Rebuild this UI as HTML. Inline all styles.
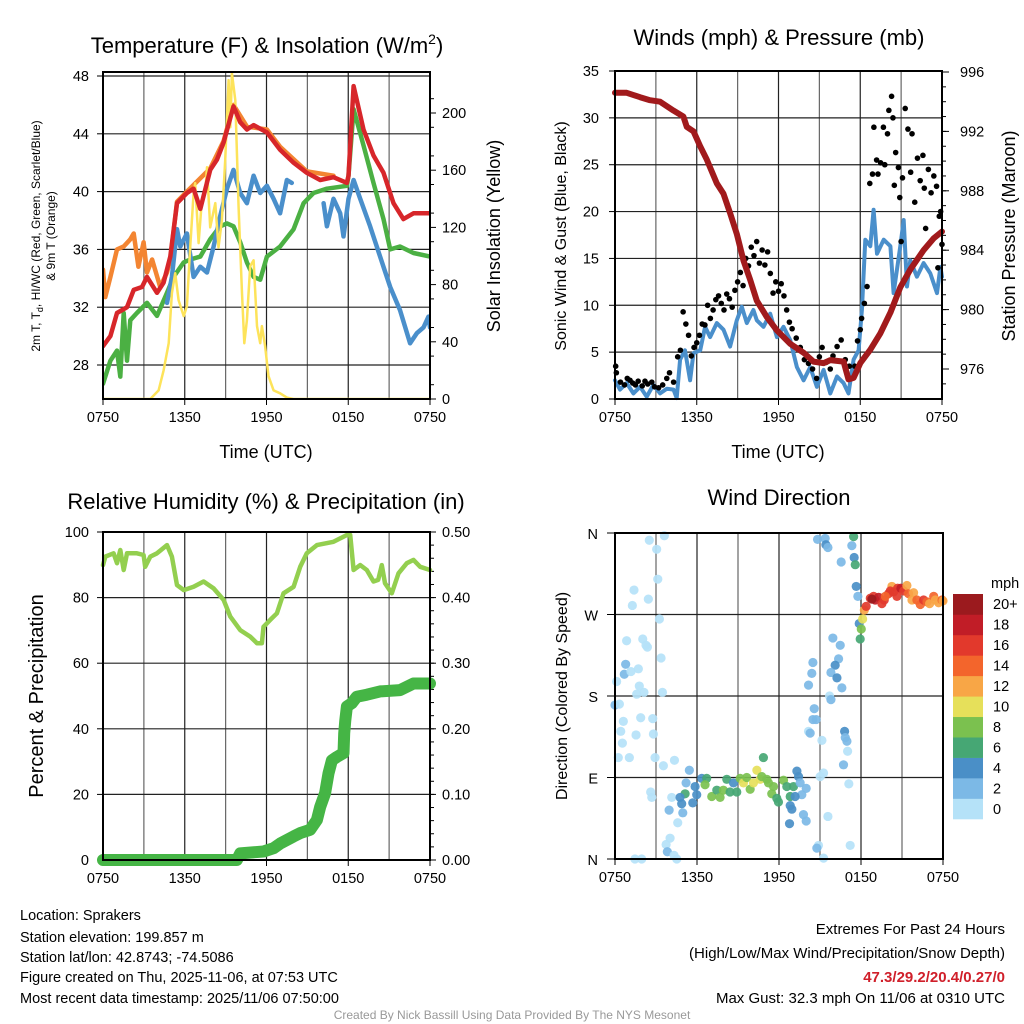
<!DOCTYPE html>
<html><head><meta charset="utf-8"><style>
html,body{margin:0;padding:0;background:#fff;}
svg{display:block;font-family:"Liberation Sans",sans-serif;}
</style></head><body>
<svg id="root" width="1024" height="1024" xmlns="http://www.w3.org/2000/svg">
<rect width="1024" height="1024" fill="#fff"/>
<g id="p1"></g>
<g id="p2"></g>
<g id="p3"></g>
<g id="p4"></g>
<text x="267" y="53" font-size="22" text-anchor="middle">Temperature (F) &amp; Insolation (W/m<tspan font-size="14" dy="-9">2</tspan><tspan dy="9">)</tspan></text>
<text x="779" y="45" font-size="22" text-anchor="middle">Winds (mph) &amp; Pressure (mb)</text>
<text x="266" y="509" font-size="22" text-anchor="middle">Relative Humidity (%) &amp; Precipitation (in)</text>
<text x="779" y="505" font-size="22" text-anchor="middle">Wind Direction</text>
<text x="266" y="458" font-size="18" text-anchor="middle">Time (UTC)</text>
<text x="778" y="458" font-size="18" text-anchor="middle">Time (UTC)</text>
<text transform="translate(40,236) rotate(-90)" font-size="12" text-anchor="middle">2m T, T<tspan font-size="9" dy="3">d</tspan><tspan dy="-3">, HI/WC (Red, Green, Scarlet/Blue)</tspan></text>
<text transform="translate(55,236) rotate(-90)" font-size="12" text-anchor="middle">&amp; 9m T (Orange)</text>
<text transform="translate(500,236) rotate(-90)" font-size="18" text-anchor="middle">Solar Insolation (Yellow)</text>
<text transform="translate(566,236) rotate(-90)" font-size="16" text-anchor="middle">Sonic Wind &amp; Gust (Blue, Black)</text>
<text transform="translate(1015,236) rotate(-90)" font-size="18" text-anchor="middle">Station Pressure (Maroon)</text>
<text transform="translate(43,696) rotate(-90)" font-size="20" text-anchor="middle">Percent &amp; Precipitation</text>
<text transform="translate(567,696) rotate(-90)" font-size="16" text-anchor="middle">Direction (Colored By Speed)</text>
<g font-size="14.5">
<text x="20" y="920">Location: Sprakers</text>
<text x="20" y="942">Station elevation: 199.857 m</text>
<text x="20" y="962">Station lat/lon: 42.8743; -74.5086</text>
<text x="20" y="982">Figure created on Thu, 2025-11-06, at 07:53 UTC</text>
<text x="20" y="1003">Most recent data timestamp: 2025/11/06 07:50:00</text>
</g>
<g font-size="15" text-anchor="end">
<text x="1005" y="934">Extremes For Past 24 Hours</text>
<text x="1005" y="958">(High/Low/Max Wind/Precipitation/Snow Depth)</text>
<text x="1005" y="982" fill="#d01f2a" font-weight="bold">47.3/29.2/20.4/0.27/0</text>
<text x="1005" y="1003">Max Gust: 32.3 mph On 11/06 at 0310 UTC</text>
</g>
<text x="512" y="1019" font-size="12" fill="#999" text-anchor="middle">Created By Nick Bassill Using Data Provided By The NYS Mesonet</text>
</svg>
<script>
// ---------- data ----------
const xTickHours=[0,6,12,18,24];
const xTickLabels=["0750","1350","1950","0150","0750"];
// Panel 1: temperature (F)
const redT=[0,.54,1.03,1.76,2.25,2.86,3.23,3.96,4.45,4.94,5.43,6.16,6.65,7.14,7.87,8.36,8.85,9.58,10.07,10.56,11.05,12.03,13.0,13.99,14.96,15.94,16.92,17.9,18.02,18.39,19.12,19.85,20.59,21.32,22.05,22.79,23.28,24];
const redV=[29.3,30.0,31.6,32.0,33.2,33.4,34.1,33.0,33.7,35.5,39.2,39.9,40.2,38.8,41.5,42.2,43.4,45.9,44.8,44.3,44.6,44.1,42.9,42.0,41.3,40.8,41.0,40.6,41.1,47.3,44.3,42.5,41.3,39.2,38.1,38.5,38.5,38.5];
const orangeT=[0,.17,.54,1.03,1.52,2.0,2.25,2.6,2.98,3.23,3.6,4.2,4.7,4.94,5.43,6.16,7.87,8.85,9.58,10.56,12.03,13.0,14.96,16.92];
const orangeV=[34.6,32.7,34.1,36.0,36.2,36.7,37.1,34.8,36.5,34.4,35.3,33.4,34.4,35.3,39.3,40.0,41.6,43.5,46.0,44.5,44.3,43.1,41.4,41.1];
const greenT=[0,.54,1.03,1.27,1.52,1.76,2.0,2.49,3.23,3.96,4.7,5.18,5.92,6.4,7.14,7.87,8.6,9.1,9.58,10.07,10.56,11.05,11.54,12.03,13.0,13.99,14.72,15.45,16.43,17.9,18.02,18.39,19.12,19.85,20.59,21.08,21.8,22.79,24];
const greenV=[26.7,28.3,29.0,27.2,31.6,28.3,31.1,31.6,32.3,31.4,33.0,34.1,35.1,35.3,35.5,36.7,37.6,37.8,37.6,36.5,35.1,34.1,33.9,35.5,36.2,37.4,39.2,39.9,40.2,40.4,41.1,45.7,43.2,40.6,38.1,36.0,36.2,35.75,35.5];
const blueT=[4.7,5.06,5.43,5.67,6.16,6.65,7.14,7.63,8.12,8.6,9.1,9.58,10.07,10.56,11.05,11.54,12.03,12.52,13.0,13.5,13.86,null,16.19,16.43,16.92,17.41,17.65,18.02,18.39,18.88,19.6,20.34,21.08,21.8,22.54,23.03,23.52,23.89,24];
const blueV=[32.3,34.1,37.4,36.2,37.1,34.1,34.8,34.4,36.2,38.3,40.2,41.5,39.9,39.2,41.1,39.9,40.4,39.5,38.5,40.8,40.6,null,39.2,37.6,39.5,38.5,36.9,39.5,40.8,39.5,37.6,35.5,33.4,31.8,29.5,30.2,30.6,31.35,30.6];
const solarT=[0,3.47,4.08,4.45,4.82,5.06,5.3,5.55,5.92,6.16,6.4,6.65,6.77,7.02,7.26,7.5,7.63,7.87,8.24,8.48,8.73,8.97,9.22,9.34,9.46,9.71,9.95,10.2,10.37,10.56,10.8,11.05,11.3,11.54,11.66,11.9,12.15,12.52,13.0,13.5,13.99,24];
const solarV=[0,0,6,20,39,74,88,69,58,65,106,144,151,109,139,144,162,120,137,106,125,167,223,190,228,209,134,74,39,55,93,97,51,39,51,37,16,6,4,1,0,0];
// Panel 2: wind (mph) and pressure (mb)
const windT=[0,.37,.86,1.35,1.84,2.33,2.82,3.31,3.8,4.29,4.53,4.78,5.14,5.51,5.76,6.25,6.61,6.98,7.47,7.96,8.45,8.94,9.31,9.67,10.16,10.41,10.9,11.39,11.88,12.37,12.86,13.35,13.84,14.33,14.82,15.31,15.8,16.29,16.78,17.14,17.51,17.88,18.12,18.37,18.74,18.98,19.23,19.72,20.21,20.45,20.94,21.19,21.43,21.67,22.16,22.65,23.14,23.63,23.88,24];
const windV=[2.0,1.0,1.7,0.6,1.3,0.25,1.5,0.6,1.1,1.0,0.1,4.2,5.2,2.0,4.9,5.2,7.7,6.6,8.1,7.4,5.6,8.4,9.85,8.1,9.5,8.4,7.7,9.1,6.6,7.7,6.3,3.4,2.0,3.4,1.3,3.1,0.6,2.4,1.7,0.6,4.2,5.2,9.5,17.0,16.3,20.2,15.5,17.0,16.3,11.3,16.3,19.1,12.0,14.8,13.05,14.5,13.4,11.3,14.1,13.05];
const gustT=[0.05,0.1,0.4,0.7,0.9,1.1,1.3,1.5,1.7,2.0,2.2,2.4,2.7,2.9,3.2,3.5,3.8,4.0,4.3,4.6,4.8,5.0,5.2,5.4,5.6,5.8,6.0,6.2,6.4,6.6,6.8,7.0,7.2,7.4,7.6,7.8,8.0,8.2,8.4,8.6,8.8,9.0,9.2,9.4,9.6,9.8,10.0,10.2,10.4,10.6,10.8,11.0,11.2,11.4,11.6,11.8,12.0,12.2,12.4,12.6,12.8,13.0,13.3,13.6,13.9,14.2,14.5,14.8,15.0,15.2,15.5,15.8,16.0,16.3,16.6,16.9,17.2,17.6,17.8,18.0,18.1,18.3,18.5,18.7,18.9,19.0,19.2,19.3,19.5,19.7,19.8,20.0,20.1,20.3,20.4,20.6,20.8,20.9,21.1,21.3,21.5,21.7,21.8,22.0,22.2,22.4,22.6,22.8,23.0,23.2,23.4,23.6,23.8,23.9,24.0,23.7,22.7,21.0,20.5];
const gustV=[3.5,2.8,1.8,1.5,2.2,2.0,1.7,1.5,1.9,1.4,1.9,1.6,1.8,1.3,1.2,1.5,2.2,2.8,1.8,4.5,5.2,9.3,8.0,6.8,4.6,5.5,6.0,6.8,8.0,7.9,10.0,8.6,9.5,10.6,11.0,10.2,9.5,11.2,10.7,9.8,11.6,12.5,13.5,12.1,15.0,14.2,16.2,15.3,16.8,14.5,15.9,14.3,15.7,13.4,11.3,12.5,11.5,12.3,11.0,9.5,8.2,7.5,6.5,5.5,4.2,3.8,3.2,2.2,4.5,5.5,3.9,3.2,4.6,5.6,6.3,4.2,3.5,3.5,6.2,7.4,8.6,10.2,12.0,23.0,24.0,29.0,25.5,24.0,25.2,29.0,25.0,28.3,30.8,32.3,30.0,26.3,24.7,21.5,23.6,31.0,28.8,24.2,28.3,21.0,25.7,23.3,26.0,18.2,24.5,22.0,23.8,22.7,19.5,20.0,16.5,14.0,22.5,16.8,22.8];
const presT=[0,.86,1.84,2.57,3.31,4.29,5.02,5.27,5.76,6.25,6.74,7.47,7.96,8.45,8.94,9.43,9.92,10.41,11.14,11.88,12.86,13.84,14.57,15.31,15.8,16.78,17.14,17.51,18.0,18.74,19.47,20.21,20.94,21.67,22.65,23.39,24];
const presV=[994.6,994.6,994.3,994.1,994.0,993.4,993.0,992.3,992.0,991.0,990.1,988.5,987.8,986.5,985.1,983.3,982.0,980.6,979.5,978.6,977.7,977.1,976.5,976.4,976.6,976.5,975.3,975.4,976.4,977.3,978.4,979.8,981.5,982.7,984.0,984.8,985.25];
// Panel 3: RH (%) and precipitation (in)
const rhT=[0,.17,.78,1.03,1.27,1.52,1.76,2.49,2.98,3.1,3.47,3.96,4.7,5.06,5.43,5.92,6.65,7.38,8.12,8.85,9.34,10.07,10.8,11.3,11.66,11.78,12.27,12.76,13.25,13.99,14.47,14.96,15.7,16.92,17.9,18.14,18.39,18.88,19.36,19.85,20.2,20.46,20.7,21.2,21.69,22.3,22.79,23.28,24];
const rhV=[89.9,92.5,93.5,90.5,94.5,88.4,93.5,93.5,93.0,89.4,92.5,93.5,96.0,92.5,83.8,82.3,83.3,84.9,82.8,79.3,74.2,70.1,68.1,66.1,66.1,71.1,73.2,75.2,81.3,83.3,89.4,93.5,96.0,97.0,99.1,99.1,88.4,89.9,88.4,84.9,85.4,89.9,84.4,81.3,87.4,90.5,91.5,89.4,88.4];
const prT=[0,9.83,10.07,11.78,12.52,13.0,13.99,14.47,15.2,15.7,15.94,16.3,16.55,16.8,17.16,17.65,17.7,17.78,17.9,18.26,18.63,19.36,20.34,21.8,22.79,24];
const prV=[0,0,.010,.013,.018,.025,.036,.041,.046,.061,.081,.102,.132,.152,.157,.163,.193,.213,.234,.239,.249,.252,.257,.259,.269,.269];
// Panel 4: wind direction (deg) colored by speed (mph)
const dirT=[2.51,3.61,3.05,3.13,1.39,1.27,2.44,3.25,0.85,2.03,2.27,2.37,0.78,0.68,1.17,1.71,0.12,1.78,1.59,2.12,3.47,3.37,0.0,0.32,0.61,0.42,0.54,0.24,1.05,1.88,2.76,1.54,2.81,2.93,3.54,4.35,2.61,2.69,4.15,3.96,4.59,3.74,4.03,3.83,4.32,4.52,1.46,1.95,
5.44,5.2,5.13,4.76,4.88,4.96,5.69,5.86,5.98,6.35,6.71,6.59,7.08,7.45,7.69,7.93,8.18,8.42,8.67,8.91,9.16,9.4,9.64,9.89,10.13,10.38,10.62,10.74,10.86,11.11,11.23,11.47,11.6,11.84,11.96,12.33,12.57,12.82,13.06,13.31,13.43,13.55,13.67,13.18,12.82,12.94,12.77,13.79,13.99,13.99,
14.16,14.28,14.16,14.4,14.48,14.58,14.48,14.72,15.14,15.26,15.01,15.58,14.89,14.77,15.26,14.82,15.38,15.43,15.58,15.94,16.48,16.55,16.36,16.11,15.8,16.24,16.6,15.7,15.8,16.8,16.85,16.97,17.02,16.72,17.11,17.21,
17.46,17.33,17.5,17.58,17.65,17.77,17.87,18.02,17.94,18.12,18.24,18.38,
18.68,19.04,18.92,19.29,19.53,19.7,20.02,20.26,20.14,20.39,20.68,20.92,21.12,21.36,21.48,21.73,21.85,22.09,22.34,22.58,22.83,23.02,23.32,23.44,23.68,23.93,24.0,20.63,19.78,18.8];
const dirV=[352,357,342,309,297,280,287,265,241,243,236,234,215,204,207,210,196,191,182,184,184,222,170,171,152,141,128,112,112,156,155,137,138,112,103,109,74,68,68,54,40,16,23,8,4,0,0,0,
98,84,72,68,61,51,62,80,71,89,89,82,69,76,68,76,88,74,84,74,89,84,90,77,84,98,88,91,112,88,84,72,80,67,63,87,80,69,80,97,91,84,71,69,59,55,39,49,42,78,
141,139,192,205,217,166,154,154,131,95,91,47,15,12,1,353,354,347,344,244,236,328,221,214,206,200,189,180,176,141,134,130,119,104,83,15,
356,346,333,325,301,290,260,254,243,265,275,279,
288,286,290,289,282,286,293,301,296,295,299,299,296,302,293,286,294,286,281,286,284,282,290,286,283,286,285,290,290,287];
const dirS=[0,0,0,0,0,0,0,0,0,0,0,0,2,2,0,0,0,0,0,0,0,0,2,0,0,0,0,0,0,0,0,0,0,0,0,0,0,0,0,2,0,0,0,2,0,0,0,0,
2,2,6,4,4,2,4,4,4,4,6,8,8,6,8,8,6,6,4,6,8,10,8,8,10,10,10,8,6,8,8,8,8,6,6,8,6,6,6,4,4,2,2,4,4,4,4,2,2,2,
0,2,2,2,2,2,2,2,0,0,0,0,0,2,0,2,2,4,2,2,2,2,2,4,2,4,2,0,2,4,2,2,0,2,0,0,
6,2,4,6,4,2,4,8,6,10,12,16,
16,18,16,18,16,16,16,12,16,16,16,18,16,12,14,12,12,14,14,16,14,12,14,12,12,14,12,16,14,20];
const cbLabels=["0","2","4","6","8","10","12","14","16","18","20+"];
const cbColors=["#b5e2f8","#7cb9e6","#4a8fc7","#46a774","#7bc14f","#e6e05a","#f8a646","#f3652c","#e2392c","#c11d27","#9b1a1e"];

// ---------- helpers ----------
const NS="http://www.w3.org/2000/svg";
function mk(parent,tag,attrs){const e=document.createElementNS(NS,tag);for(const k in attrs)e.setAttribute(k,attrs[k]);parent.appendChild(e);return e;}
function lin(d0,d1,r0,r1){return v=>r0+(v-d0)*(r1-r0)/(d1-d0);}
function pathFrom(ts,vs,sx,sy){let d="",pen=false;for(let i=0;i<ts.length;i++){if(ts[i]===null||vs[i]===null){pen=false;continue;}d+=(pen?"L":"M")+sx(ts[i]).toFixed(1)+" "+sy(vs[i]).toFixed(1);pen=true;}return d;}
function frame(g,L,R,T,B,sx){
  // vertical grid every 3h
  for(let h=0;h<=24;h+=3){const gl=mk(g,"line",{x1:sx(h),x2:sx(h),y1:T,y2:B,stroke:(h%6===0)?"#222":"#666","stroke-width":1.2});
  
  }
  xTickHours.forEach((h,i)=>{const t=mk(g,"text",{x:sx(h),y:B+23,"font-size":14.5,"text-anchor":"middle"});t.textContent=xTickLabels[i];
  
  
  mk(g,"line",{x1:sx(h),x2:sx(h),y1:B,y2:B+6,stroke:"#000"});});
}
function hgrid(g,L,R,y){const l=mk(g,"line",{x1:L,x2:R,y1:y,y2:y,stroke:"#222","stroke-width":1.2});

}
function border(g,L,R,T,B){const r=mk(g,"rect",{x:L,y:T,width:R-L,height:B-T,fill:"none",stroke:"#000","stroke-width":2});

}
function label(g,x,y,txt,anchor,name){const t=mk(g,"text",{x:x,y:y+5,"font-size":14.5,"text-anchor":anchor});t.textContent=txt;

}
function line(g,d,color,w,name){const p=mk(g,"path",{d:d,fill:"none",stroke:color,"stroke-width":w,"stroke-linejoin":"round","stroke-linecap":"round"});

return p;}

// ---------- Panel 1 ----------
(function(){
 const g=document.getElementById("p1");const L=103,R=430,T=72,B=399;
 const sx=lin(0,24,L,R),sy=lin(28,48,365,76),sy2=lin(0,200,399,113);
 frame(g,L,R,T,B,sx);
 [28,32,36,40,44,48].forEach(v=>{hgrid(g,L,R,sy(v));label(g,L-14,sy(v),String(v),"end","temp-y-tick-label");mk(g,"line",{x1:L-6,x2:L,y1:sy(v),y2:sy(v),stroke:"#000"});});
 [0,40,80,120,160,200].forEach(v=>{label(g,R+12,sy2(v),String(v),"start","solar-y-tick-label");mk(g,"line",{x1:R,x2:R+6,y1:sy2(v),y2:sy2(v),stroke:"#000"});});
 for(let v=10;v<=210;v+=20){mk(g,"line",{x1:R,x2:R+4,y1:sy2(v),y2:sy2(v),stroke:"#000"});}
 const cp=document.createElementNS(NS,"clipPath");cp.id="c1";g.appendChild(cp);mk(cp,"rect",{x:L,y:T-4,width:R-L,height:B-T+4});
 const lg=mk(g,"g",{"clip-path":"url(#c1)"});
 line(lg,pathFrom(orangeT,orangeV,sx,sy),"#f38532",4.5,"9m-temperature-line");
 line(lg,pathFrom(greenT,greenV,sx,sy),"#4bb043",4.5,"dewpoint-line");
 line(lg,pathFrom(blueT,blueV,sx,sy),"#4a8fcb",4.5,"wind-chill-line");
 line(lg,pathFrom(solarT,solarV,sx,sy2),"#fde35a",2.5,"solar-insolation-line");
 line(lg,pathFrom(redT,redV,sx,sy),"#d7262a",4.5,"temperature-line");
 border(g,L,R,T,B);
})();

// ---------- Panel 2 ----------
(function(){
 const g=document.getElementById("p2");const L=615,R=942,T=71,B=399;
 const sx=lin(0,24,L,R),sy=lin(0,35,399,71),sy2=lin(976,996,369,72);
 frame(g,L,R,T,B,sx);
 for(let v=0;v<=35;v+=5){hgrid(g,L,R,sy(v));label(g,L-16,sy(v),String(v),"end","wind-y-tick-label");mk(g,"line",{x1:L-6,x2:L,y1:sy(v),y2:sy(v),stroke:"#000"});}
 [976,980,984,988,992,996].forEach(v=>{label(g,R+18,sy2(v),String(v),"start","pressure-y-tick-label");mk(g,"line",{x1:R,x2:R+7,y1:sy2(v),y2:sy2(v),stroke:"#000"});});
 for(let v=975;v<=996;v+=1){mk(g,"line",{x1:R,x2:R+4,y1:sy2(v),y2:sy2(v),stroke:"#000"});}
 line(g,pathFrom(windT,windV,sx,sy),"#4a8fcb",4,"sonic-wind-line");
 gustT.forEach((t,i)=>{const c=mk(g,"circle",{cx:sx(t),cy:sy(gustV[i]),r:2.8,fill:"#000"});
 
 });
 line(g,pathFrom(presT,presV,sx,sy2),"#a11a1c",6,"pressure-line");
 border(g,L,R,T,B);
})();

// ---------- Panel 3 ----------
(function(){
 const g=document.getElementById("p3");const L=103,R=430,T=532,B=860;
 const sx=lin(0,24,L,R),sy=lin(0,100,860,532),sy2=lin(0,0.5,860,532);
 frame(g,L,R,T,B,sx);
 for(let v=0;v<=100;v+=20){hgrid(g,L,R,sy(v));label(g,L-14,sy(v),String(v),"end","percent-y-tick-label");mk(g,"line",{x1:L-6,x2:L,y1:sy(v),y2:sy(v),stroke:"#000"});}
 for(let v=0;v<=5;v++){label(g,R+12,sy2(v/10),(v/10).toFixed(2),"start","precip-y-tick-label");mk(g,"line",{x1:R,x2:R+6,y1:sy2(v/10),y2:sy2(v/10),stroke:"#000"});}
 for(let v=0;v<=50;v+=2){mk(g,"line",{x1:R,x2:R+4,y1:sy2(v/100),y2:sy2(v/100),stroke:"#000"});}
 line(g,pathFrom(rhT,rhV,sx,sy),"#93cf4f",4.5,"relative-humidity-line");
 line(g,pathFrom(prT,prV,sx,sy2),"#45b545",12,"precipitation-line");
 border(g,L,R,T,B);
})();

// ---------- Panel 4 ----------
(function(){
 const g=document.getElementById("p4");const L=615,R=943,T=533,B=859;
 const sx=lin(0,24,L,R),sy=lin(0,360,859,533);
 frame(g,L,R,T,B,sx);
 const dl=["N","E","S","W","N"];
 [0,90,180,270,360].forEach((v,i)=>{hgrid(g,L,R,sy(v));label(g,L-17,sy(v)+1,dl[i],"end","direction-y-tick-label");mk(g,"line",{x1:L-8,x2:L,y1:sy(v),y2:sy(v),stroke:"#000"});});
 dirT.forEach((t,i)=>{const ci=Math.min(10,Math.round(dirS[i]/2));const c=mk(g,"circle",{cx:sx(t),cy:sy(dirV[i]),r:4.6,fill:cbColors[ci],"fill-opacity":0.92});
 
 });
 border(g,L,R,T,B);
 const cb=mk(g,"g",{});
 
 
 const h=225/11;
 cbColors.forEach((c,i)=>{const y=819-(i+1)*h;mk(cb,"rect",{x:953,y:y,width:30,height:h+0.3,fill:c});
 const t=mk(cb,"text",{x:993,y:y+h/2+5,"font-size":14.5});t.textContent=cbLabels[i];
 
 });
 const m=mk(cb,"text",{x:991,y:588,"font-size":14.5});m.textContent="mph";
 
 
})();
</script>
</body></html>
